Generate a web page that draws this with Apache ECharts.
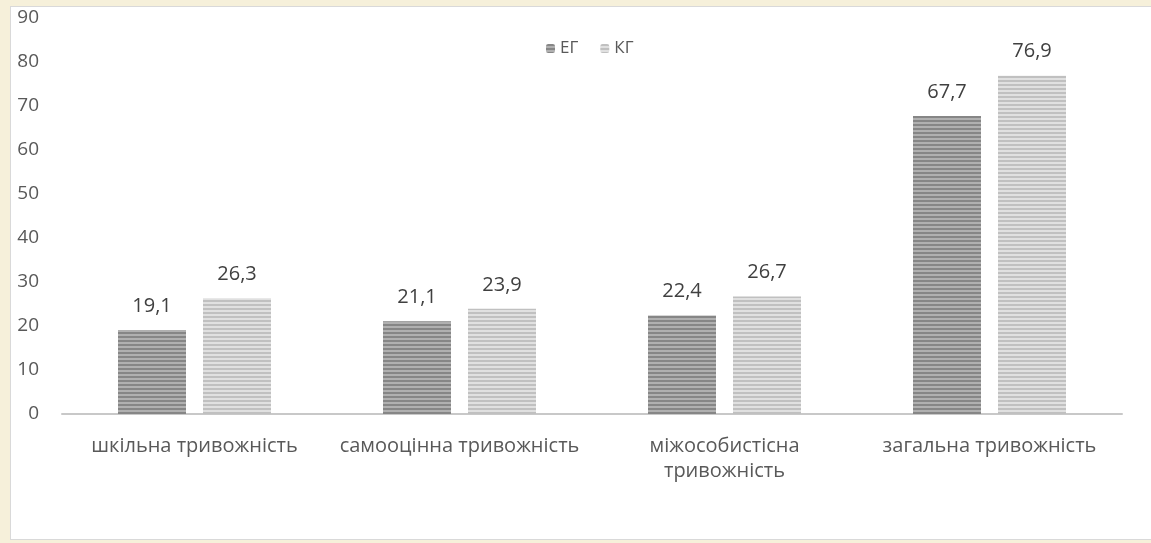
<!DOCTYPE html>
<html><head><meta charset="utf-8">
<script src="https://cdn.jsdelivr.net/npm/echarts@6/dist/echarts.min.js"></script>
<style>
html,body{margin:0;padding:0;background:#f6f0da;width:1151px;height:543px;overflow:hidden;}
#panel{position:absolute;left:10px;top:6px;width:1145px;height:534px;background:#fff;border:1px solid #d9d9d9;box-sizing:border-box;}
#chart{position:absolute;left:0;top:0;width:1151px;height:543px;}
</style></head><body>
<div id="panel"></div>
<div id="chart"></div>
<script>
const categories = ['шкільна тривожність', 'самооцінна тривожність', 'міжособистісна тривожність', 'загальна тривожність'];
const seriesNames = ['ЕГ', 'КГ'];
const egValues = [19.1, 21.1, 22.4, 67.7];
const kgValues = [26.3, 23.9, 26.7, 76.9];
const yTicks = [0, 10, 20, 30, 40, 50, 60, 70, 80, 90];

function stripes(dark, light) {
  const c = document.createElement('canvas');
  c.width = 4; c.height = 4;
  const g = c.getContext('2d');
  g.fillStyle = light; g.fillRect(0, 0, 4, 4);
  g.fillStyle = dark; g.fillRect(0, 0, 4, 2);
  return { image: c, repeat: 'repeat' };
}
const egFill = stripes('#868686', '#b0b0b0');
const kgFill = stripes('#c0c0c0', '#e0e0e0');

const chart = echarts.init(document.getElementById('chart'));
const fmt = p => String(p.value).replace('.', ',');
const wrap = s => s.length > 24 ? s.replace(' ', '\n') : s;
chart.setOption({
  backgroundColor: 'transparent',
  animation: false,
  textStyle: { fontFamily: 'Open Sans' },
  legend: {
    left: 541, top: 35, itemWidth: 9, itemHeight: 9, itemGap: 22,
    textStyle: { color: '#595959', fontSize: 17, fontFamily: 'Open Sans' },
    data: seriesNames
  },
  grid: { left: 62, right: 29, top: 18, bottom: 129 },
  xAxis: {
    type: 'category', data: categories,
    axisLine: { lineStyle: { color: '#c8c8c8', width: 2 } },
    axisTick: { show: false },
    axisLabel: {
      color: '#595959', fontSize: 20, margin: 20, lineHeight: 25, interval: 0,
      formatter: wrap
    }
  },
  yAxis: {
    type: 'value', min: yTicks[0], max: yTicks[yTicks.length - 1], interval: 10,
    axisLine: { show: false }, axisTick: { show: false },
    splitLine: { show: false },
    axisLabel: { color: '#595959', fontSize: 19, margin: 23 }
  },
  series: [
    { name: seriesNames[0], type: 'bar', data: egValues, barWidth: 68, barGap: '25%',
      itemStyle: { color: egFill },
      label: { show: true, position: 'top', distance: 14, color: '#404040', fontSize: 20, formatter: fmt } },
    { name: seriesNames[1], type: 'bar', data: kgValues, barWidth: 68, barGap: '25%',
      itemStyle: { color: kgFill },
      label: { show: true, position: 'top', distance: 14, color: '#404040', fontSize: 20, formatter: fmt } }
  ]
});
</script></body></html>
